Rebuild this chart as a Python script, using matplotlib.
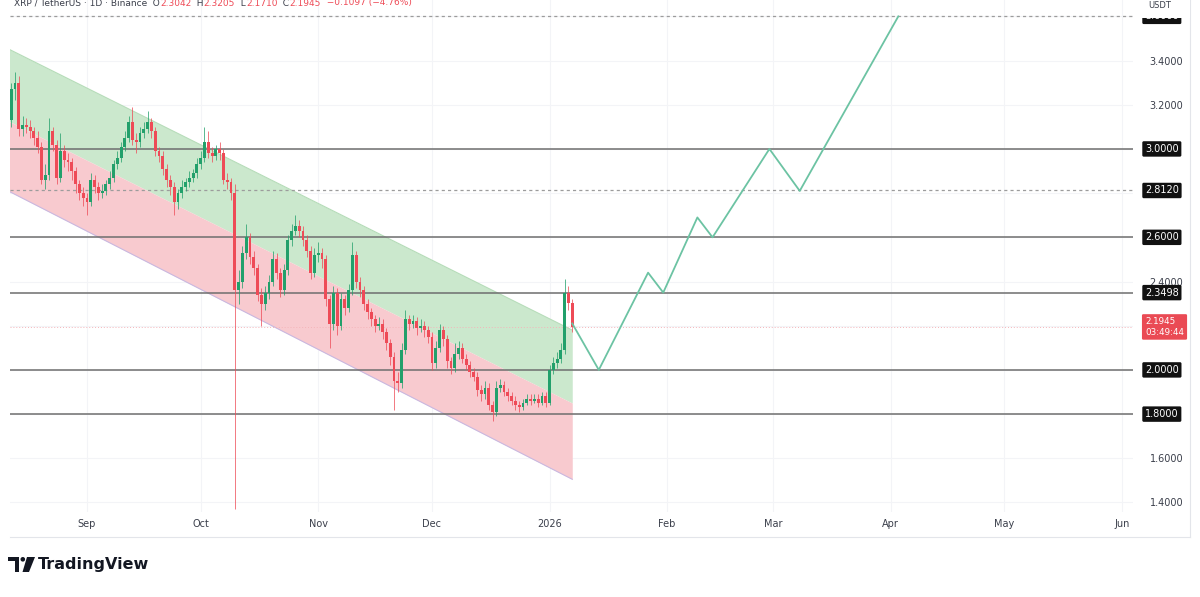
import numpy as np
import matplotlib
matplotlib.use("Agg")
import matplotlib.pyplot as plt
import matplotlib.dates as mdates
import matplotlib.transforms as mtransforms
from matplotlib.patches import Polygon, Ellipse, Rectangle

# ---- data ----
candle_dates = np.arange("2025-08-12", "2026-01-08", dtype="datetime64[D]")
first_open = 3.13
closes = [
    3.27, 3.30, 3.09, 3.11, 3.10, 3.08, 3.05, 3.01, 2.86, 2.88,
    3.08, 3.02, 2.87, 2.99, 2.95, 2.94, 2.90, 2.84, 2.80, 2.78,
    2.76, 2.86, 2.83, 2.80, 2.81, 2.84, 2.87, 2.93, 2.96, 3.01,
    3.05, 3.12, 3.04, 3.03, 3.07, 3.09, 3.12, 3.08, 2.99, 2.97,
    2.91, 2.86, 2.83, 2.76, 2.80, 2.83, 2.85, 2.87, 2.89, 2.93,
    2.96, 3.03, 2.98, 2.97, 3.00, 2.98, 2.86, 2.85, 2.80, 2.36,
    2.40, 2.53, 2.60, 2.51, 2.46, 2.34, 2.30, 2.35, 2.40, 2.50,
    2.44, 2.36, 2.45, 2.59, 2.63, 2.65, 2.63, 2.59, 2.54, 2.44,
    2.52, 2.53, 2.50, 2.32, 2.21, 2.35, 2.20, 2.32, 2.28, 2.36,
    2.52, 2.40, 2.36, 2.30, 2.26, 2.23, 2.20, 2.21, 2.17, 2.12,
    2.06, 1.95, 1.94, 2.09, 2.23, 2.21, 2.22, 2.19, 2.20, 2.18,
    2.15, 2.03, 2.10, 2.18, 2.14, 2.04, 2.01, 2.07, 2.10, 2.05,
    2.02, 1.99, 1.97, 1.91, 1.89, 1.92, 1.84, 1.81, 1.92, 1.93,
    1.90, 1.88, 1.86, 1.84, 1.83, 1.85, 1.87, 1.86, 1.87, 1.85,
    1.88, 1.85, 2.00, 2.03, 2.05, 2.09, 2.35, 2.3042, 2.1945,
]
highs = [
    3.30, 3.35, 3.33, 3.15, 3.14, 3.13, 3.10, 3.08, 3.03, 2.93,
    3.14, 3.10, 3.04, 3.07, 3.02, 2.98, 2.96, 2.92, 2.86, 2.83,
    2.80, 2.89, 2.88, 2.85, 2.84, 2.86, 2.90, 2.95, 2.99, 3.03,
    3.08, 3.15, 3.19, 3.07, 3.10, 3.12, 3.17, 3.14, 3.10, 3.01,
    2.99, 2.93, 2.88, 2.85, 2.82, 2.86, 2.87, 2.90, 2.91, 2.96,
    2.99, 3.10, 3.08, 3.01, 3.02, 3.03, 3.00, 2.89, 2.87, 2.84,
    2.45, 2.56, 2.66, 2.62, 2.54, 2.48, 2.37, 2.38, 2.43, 2.54,
    2.53, 2.46, 2.48, 2.61, 2.66, 2.70, 2.68, 2.65, 2.61, 2.56,
    2.55, 2.58, 2.55, 2.52, 2.34, 2.38, 2.37, 2.35, 2.34, 2.39,
    2.58, 2.54, 2.42, 2.38, 2.32, 2.28, 2.25, 2.24, 2.23, 2.19,
    2.14, 2.08, 1.99, 2.12, 2.27, 2.25, 2.25, 2.24, 2.23, 2.22,
    2.20, 2.17, 2.13, 2.21, 2.20, 2.16, 2.06, 2.12, 2.13, 2.12,
    2.07, 2.04, 2.01, 1.99, 1.93, 1.95, 1.94, 1.86, 1.95, 1.96,
    1.95, 1.92, 1.90, 1.88, 1.86, 1.87, 1.89, 1.89, 1.89, 1.89,
    1.90, 1.90, 2.02, 2.06, 2.08, 2.12, 2.41, 2.38, 2.3205,
]
lows = [
    3.10, 3.22, 3.06, 3.06, 3.07, 3.05, 3.02, 2.98, 2.84, 2.82,
    2.86, 2.99, 2.84, 2.85, 2.92, 2.90, 2.86, 2.80, 2.77, 2.74,
    2.70, 2.74, 2.80, 2.77, 2.78, 2.79, 2.82, 2.85, 2.91, 2.94,
    2.99, 3.03, 3.02, 2.98, 3.01, 3.05, 3.07, 3.05, 2.97, 2.94,
    2.88, 2.83, 2.79, 2.70, 2.73, 2.78, 2.81, 2.83, 2.85, 2.87,
    2.91, 2.94, 2.96, 2.94, 2.95, 2.95, 2.84, 2.82, 2.77, 1.37,
    2.30, 2.37, 2.50, 2.48, 2.43, 2.31, 2.20, 2.27, 2.32, 2.38,
    2.41, 2.33, 2.34, 2.43, 2.56, 2.61, 2.60, 2.56, 2.51, 2.41,
    2.42, 2.49, 2.46, 2.29, 2.10, 2.18, 2.16, 2.18, 2.25, 2.26,
    2.34, 2.37, 2.33, 2.27, 2.23, 2.20, 2.17, 2.18, 2.14, 2.09,
    2.02, 1.82, 1.90, 1.92, 2.07, 2.18, 2.19, 2.16, 2.17, 2.15,
    2.12, 2.00, 2.01, 2.08, 2.11, 2.01, 1.98, 1.99, 2.05, 2.03,
    2.00, 1.97, 1.95, 1.88, 1.86, 1.87, 1.82, 1.77, 1.79, 1.90,
    1.88, 1.86, 1.84, 1.82, 1.81, 1.82, 1.84, 1.84, 1.85, 1.83,
    1.84, 1.83, 1.84, 1.98, 2.01, 2.03, 2.07, 2.27, 2.1710,
]

# descending channel (two anchor points per boundary)
channel_dates = ["2025-08-11", "2026-01-07"]
channel_upper = [3.455, 2.180]
channel_mid = [3.129, 1.850]
channel_lower = [2.812, 1.505]

# projected path
path_dates = ["2026-01-07", "2026-01-14", "2026-01-27", "2026-01-31", "2026-02-09",
              "2026-02-13", "2026-02-28", "2026-03-08", "2026-04-03"]
path_prices = [2.21, 2.00, 2.44, 2.35, 2.69, 2.60, 3.00, 2.81, 3.60]

solid_levels = [3.0, 2.6, 2.3498, 2.0, 1.8]
dashed_levels = [3.6, 2.812]
label_levels = [3.6, 3.0, 2.812, 2.6, 2.3498, 2.0, 1.8]
last_price = 2.1945
countdown = "03:49:44"

y_ticks = [1.4, 1.6, 1.8, 2.0, 2.2, 2.4, 2.6, 2.8, 3.0, 3.2, 3.4, 3.6]
y_ticklabels = ["1.4000", "1.6000", "", "", "", "2.4000", "", "", "", "3.2000", "3.4000", ""]
month_ticks = ["2025-09-01", "2025-10-01", "2025-11-01", "2025-12-01", "2026-01-01",
               "2026-02-01", "2026-03-01", "2026-04-01", "2026-05-01", "2026-06-01"]
month_labels = ["Sep", "Oct", "Nov", "Dec", "2026", "Feb", "Mar", "Apr", "May", "Jun"]

header_parts = [("XRP / TetherUS · 1D · Binance", "dark"), ("  O", "dark"), ("2.3042", "red"),
                ("  H", "dark"), ("2.3205", "red"), ("  L", "dark"), ("2.1710", "red"),
                ("  C", "dark"), ("2.1945", "red"), ("  −0.1097 (−4.76%)", "red")]

UP = "#22a06b"
DN = "#ee4b57"
TXT = "#3a3e4a"
INK = "#131722"

W, H = 1200, 597
fig = plt.figure(figsize=(12, 5.97), dpi=100)
ax = fig.add_axes([10 / W, 1 - 512 / H, 1123 / W, 512 / H])
ax.set_axisbelow(True)


def fpx(x, y):
    # pixel position (from top-left) -> figure fraction
    return (x / W, 1 - y / H)


# channel fills
cd = mdates.date2num(np.array(channel_dates, dtype="datetime64[D]"))
ax.fill_between(cd, channel_mid, channel_upper, color="#cbe8cd", lw=0, zorder=1)
ax.fill_between(cd, channel_lower, channel_mid, color="#f8cacf", lw=0, zorder=1)
ax.plot(cd, channel_upper, color="#b5dcb8", lw=0.8, zorder=1.1)
ax.plot(cd, channel_lower, color="#c9b8e0", lw=0.8, zorder=1.1)

# price levels
for lv in solid_levels:
    ax.axhline(lv, color="#6e6e6e", lw=1.1, zorder=2)
for lv in dashed_levels:
    ax.axhline(lv, color="#9c9c9c", lw=0.9, ls=(0, (2.5, 2.5)), zorder=2)
ax.axhline(last_price, color="#f4b4b9", lw=0.7, ls=(0, (1, 2)), zorder=1.5)

# candles
xd = mdates.date2num(candle_dates)
c = np.array(closes)
o = np.r_[first_open, c[:-1]]
cols = np.where(c >= o, UP, DN)
ax.vlines(xd, lows, highs, colors=cols, lw=0.7, alpha=0.75, zorder=3)
ax.bar(xd, np.maximum(np.abs(c - o), 0.005), bottom=np.minimum(o, c), width=0.75,
       color=cols, lw=0, zorder=3.2)

# projection
pd_ = mdates.date2num(np.array(path_dates, dtype="datetime64[D]"))
ax.plot(pd_, path_prices, color="#6cc3a3", lw=1.3, zorder=4)

# axes / scales
ax.set_xlim(mdates.date2num(np.datetime64("2025-08-12")) - 0.3,
            mdates.date2num(np.datetime64("2026-06-03")) + 0.9)
ax.set_ylim(1.357, 3.674)
ax.yaxis.tick_right()
ax.set_yticks(y_ticks)
ax.set_yticklabels(y_ticklabels)
ax.set_xticks(mdates.date2num(np.array(month_ticks, dtype="datetime64[D]")))
ax.set_xticklabels(month_labels)
ax.tick_params(axis="y", length=0, pad=12, labelsize=7, labelcolor=TXT)
ax.tick_params(axis="x", length=0, pad=5, labelsize=7, labelcolor=TXT)
ax.grid(color="#f3f4f7", lw=0.8)
for s in ax.spines.values():
    s.set_visible(False)

# price labels on the scale
tr = mtransforms.blended_transform_factory(ax.transAxes, ax.transData)
for lv in label_levels:
    ax.text(1.0107, lv, f"{lv:.4f}", transform=tr, ha="left", va="center", fontsize=7,
            color="white", zorder=6, clip_on=False,
            bbox=dict(boxstyle="round,pad=0.28,rounding_size=0.15", fc="#111111", ec="none"))
ax.text(1.0107, last_price, f"{last_price:.4f}\n{countdown}", transform=tr, ha="left",
        va="center", fontsize=6.3, color="white", zorder=6, clip_on=False, linespacing=1.2,
        bbox=dict(boxstyle="round,pad=0.35,rounding_size=0.15", fc="#ea4a54", ec="none"))

# white strip over the top of the scale (hides most of the top label)
fig.add_artist(Rectangle(fpx(1134, 18), 56 / W, 18 / H, transform=fig.transFigure,
                         fc="white", ec="none", zorder=10))
fig.text(*fpx(1160, 5), "USDT", fontsize=6, color=TXT, ha="center", va="center", zorder=11)

# frame lines
fig.add_artist(plt.Line2D([10 / W, 1190 / W], [1 - 537 / H] * 2, color="#e3e5ea", lw=0.8))
fig.add_artist(plt.Line2D([1190 / W] * 2, [1 - 537 / H, 1], color="#e3e5ea", lw=0.8))

# legend line at the top
ann = None
for s, kind in header_parts:
    col = DN if kind == "red" else TXT
    if ann is None:
        ann = ax.annotate(s, xy=fpx(14, 3), xycoords="figure fraction", fontsize=6.5,
                          color=col, va="center", ha="left", annotation_clip=False, zorder=12)
    else:
        ann = ax.annotate(s, xy=(1, 0.5), xycoords=ann, fontsize=6.5, color=col,
                          va="center", ha="left", annotation_clip=False, zorder=12)

# TradingView mark
fig.add_artist(Polygon([fpx(8, 557), fpx(19, 557), fpx(19, 572), fpx(14.5, 572),
                        fpx(14.5, 561), fpx(8, 561)], closed=True,
                       transform=fig.transFigure, fc=INK, ec="none"))
fig.add_artist(Ellipse(fpx(22.8, 559.3), 4.6 / W, 4.6 / H, transform=fig.transFigure,
                       fc=INK, ec="none"))
fig.add_artist(Polygon([fpx(27, 557), fpx(35, 557), fpx(29, 572), fpx(22.5, 572)],
                       closed=True, transform=fig.transFigure, fc=INK, ec="none"))
fig.text(*fpx(38, 564.5), "TradingView", fontsize=11.5, fontweight="bold",
         color=INK, va="center", ha="left")

fig.savefig("out.png", dpi=100)
